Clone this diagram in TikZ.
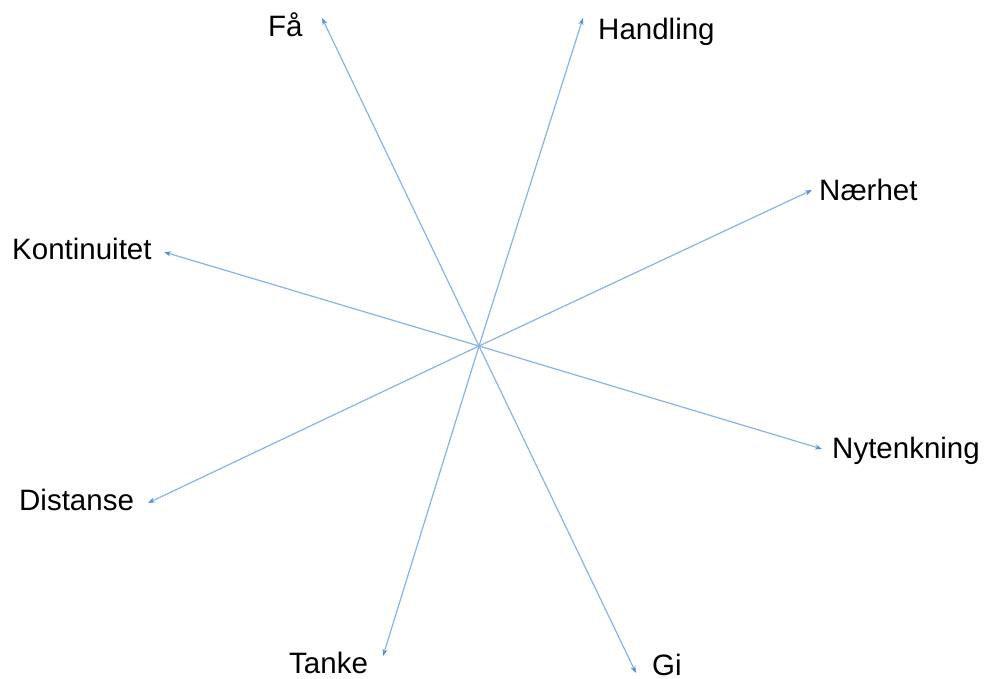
\documentclass[tikz,border=0pt]{standalone}
\usepackage{fontspec}
\setmainfont{Liberation Sans}
\usetikzlibrary{arrows.meta}
\definecolor{lineblue}{RGB}{135,180,228}
\definecolor{tipblue}{RGB}{80,145,215}
\begin{document}
\begin{tikzpicture}[x=1pt,y=-1pt,
  lbl/.style={anchor=base west,inner sep=0pt,font=\fontsize{29.5}{32}\selectfont},
  spoke/.style={draw=lineblue,line width=1.2pt,-{Stealth[length=7pt,width=5pt,color=tipblue]}}]
\useasboundingbox (0,0) rectangle (985,679);
\coordinate (c) at (479,346);
\coordinate (tfa) at (322,18);
\coordinate (tha) at (583,18);
\coordinate (tna) at (812,190);
\coordinate (tny) at (822,449);
\coordinate (tgi) at (636,673);
\coordinate (tta) at (383,656);
\coordinate (tdi) at (148,503);
\coordinate (tko) at (164,252);
\node[lbl] (fa) at (268,37) {Få};
\node[lbl] (ha) at (598,40) {Handling};
\node[lbl] (na) at (819,201) {Nærhet};
\node[lbl] (ny) at (832,458) {Nytenkning};
\node[lbl] (gi) at (652,675) {Gi};
\node[lbl] (ta) at (289,673) {Tanke};
\node[lbl] (di) at (19,510) {Distanse};
\node[lbl] (ko) at (12,259) {Kontinuitet};
\foreach \t in {tfa,tha,tna,tny,tgi,tta,tdi,tko}
  \draw[spoke] (c) -- (\t);
\end{tikzpicture}
\end{document}
